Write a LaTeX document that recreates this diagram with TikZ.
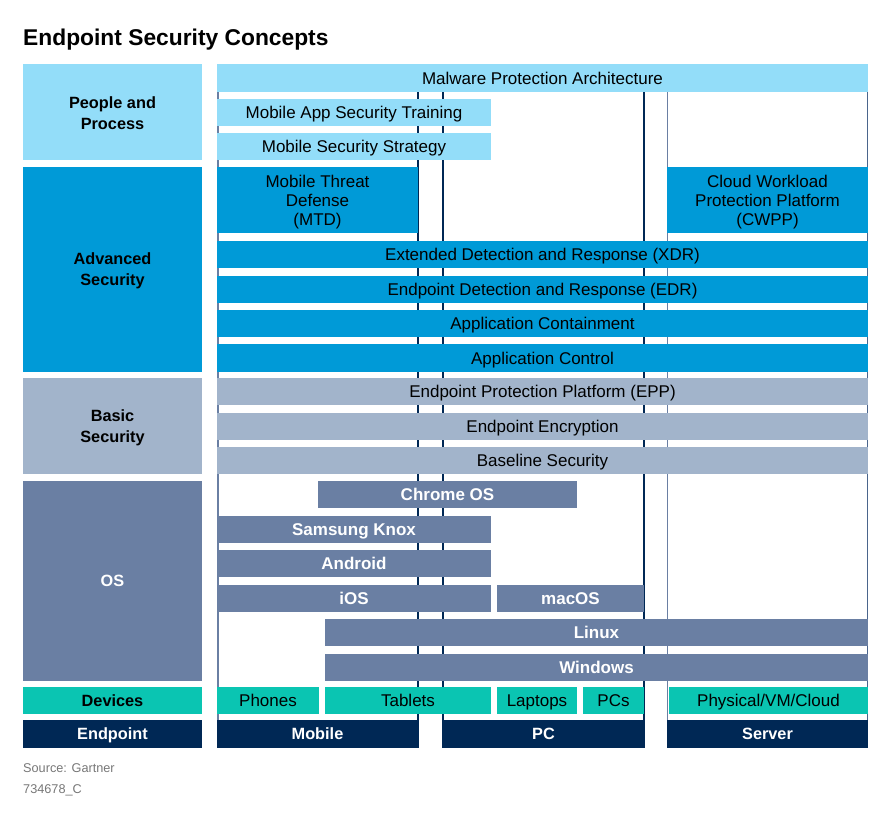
\documentclass[tikz,border=0pt]{standalone}
\usepackage{fontspec}
\setmainfont{Liberation Sans}
\definecolor{cLight}{HTML}{93DDF9}
\definecolor{cAdv}{HTML}{009AD7}
\definecolor{cBasic}{HTML}{A2B4CB}
\definecolor{cOS}{HTML}{6A7FA3}
\definecolor{cDev}{HTML}{0AC5B2}
\definecolor{cEnd}{HTML}{002855}
\definecolor{cGrayLine}{HTML}{6A7FA3}
\definecolor{cSrc}{HTML}{777777}
\newcommand\bx[7]{%
  \node[#6, minimum width={(#4-#2)*1pt}, minimum height={(#5-#3)*1pt}, anchor=north west] (#1) at (#2,#3) {#7};}
% multi-line box: the text is a centred label shifted down a little
\newcommand\bxm[8]{%
  \node[#6, minimum width={(#4-#2)*1pt}, minimum height={(#5-#3)*1pt}, anchor=north west,
        label={[#7]center:{#8}}] (#1) at (#2,#3) {};}
\begin{document}
\begin{tikzpicture}[x=1pt,y=-1pt,
  base/.style={inner sep=0pt, outer sep=0pt, align=center, font=\fontsize{17}{19}\selectfont},
  one/.style={text height=14pt, text depth=1.8pt},
  box/.style={base, one},
  lbl/.style={base, font=\fontsize{16.3}{21}\selectfont\bfseries},
  lblt/.style={inner sep=0pt, align=center, font=\fontsize{16.3}{21}\selectfont\bfseries, yshift=-1.5pt},
  lblone/.style={lbl, text height=13.4pt, text depth=1.7pt},
  light/.style={box, fill=cLight, text=black},
  adv/.style={box, fill=cAdv, text=black},
  advm/.style={base, fill=cAdv},
  advt/.style={inner sep=0pt, align=center, font=\fontsize{17}{19}\selectfont, text=black, yshift=-2.5pt},
  basic/.style={box, fill=cBasic, text=black},
  os/.style={box, fill=cOS, text=white, font=\fontsize{17}{19}\selectfont\bfseries},
  dev/.style={box, fill=cDev, text=black},
  endp/.style={box, fill=cEnd, text=white, font=\fontsize{16.3}{19}\selectfont\bfseries, text height=13.4pt, text depth=1.7pt},
  navyline/.style={draw=cEnd, line width=1.5pt},
  grayline/.style={draw=cGrayLine, line width=1.5pt},
]
\useasboundingbox (0,0) rectangle (892,812);
% title
\node[anchor=base west, inner sep=0pt, font=\fontsize{22.8}{26}\selectfont\bfseries] (title) at (23,45) {Endpoint Security Concepts};
% column outlines
\draw[grayline] (217.75,64) -- (217.75,748);
\draw[navyline] (418,64) -- (418,748);
\draw[navyline] (443,64) -- (443,748);
\draw[navyline] (644,64) -- (644,748);
\draw[grayline] (667.5,64) -- (667.5,748);
\draw[draw=cGrayLine!70!cEnd, line width=1.5pt] (867.5,64) -- (867.5,748);
% left labels
\bxm{pp}{23}{64}{202}{160}{lbl,fill=cLight}{lblt,text=black}{People and\\Process}
\bxm{as}{23}{167}{202}{372}{lbl,fill=cAdv}{lblt,text=black}{Advanced\\Security}
\bxm{bs}{23}{378}{202}{474}{lbl,fill=cBasic}{lblt,text=black}{Basic\\Security}
\bx{osl}{23}{481}{202}{681}{lblone,fill=cOS,text=white}{OS}
\bx{devl}{23}{687}{202}{714}{lblone,fill=cDev,text=black}{Devices}
\bx{endl}{23}{720}{202}{748}{lblone,fill=cEnd,text=white}{Endpoint}
% people and process
\bx{mpa}{217}{64}{868}{92}{light}{Malware Protection Architecture}
\bx{mast}{217}{99}{491}{126}{light}{Mobile App Security Training}
\bx{mss}{217}{133}{491}{160}{light}{Mobile Security Strategy}
% advanced
\bxm{mtd}{217}{167}{418}{233}{advm}{advt}{Mobile Threat\\Defense\\(MTD)}
\bxm{cwpp}{667}{167}{868}{233}{advm}{advt}{Cloud Workload\\Protection Platform\\(CWPP)}
\bx{xdr}{217}{241}{868}{268}{adv}{Extended Detection and Response (XDR)}
\bx{edr}{217}{276}{868}{303}{adv}{Endpoint Detection and Response (EDR)}
\bx{ac}{217}{310}{868}{337}{adv}{Application Containment}
\bx{actl}{217}{344}{868}{372}{adv}{Application Control}
% basic
\bx{epp}{217}{378}{868}{405}{basic}{Endpoint Protection Platform (EPP)}
\bx{ee}{217}{413}{868}{440}{basic}{Endpoint Encryption}
\bx{bls}{217}{447}{868}{474}{basic}{Baseline Security}
% OS
\bx{chr}{318}{481}{577}{508}{os}{Chrome OS}
\bx{knox}{217}{516}{491}{543}{os}{Samsung Knox}
\bx{andr}{217}{550}{491}{577}{os}{Android}
\bx{ios}{217}{585}{491}{612}{os}{iOS}
\bx{mac}{497}{585}{644}{612}{os}{macOS}
\bx{lin}{325}{619}{868}{646}{os}{Linux}
\bx{win}{325}{654}{868}{681}{os}{Windows}
% devices
\bx{phn}{217}{687}{319}{714}{dev}{Phones}
\bx{tab}{325}{687}{491}{714}{dev}{Tablets}
\bx{lap}{497}{687}{577}{714}{dev}{Laptops}
\bx{pcs}{583}{687}{644}{714}{dev}{PCs}
\bx{phy}{669}{687}{868}{714}{dev}{Physical/VM/Cloud}
% endpoints
\bx{mob}{217}{720}{418}{748}{endp}{Mobile}
\bx{pc}{443}{720}{644}{748}{endp}{PC}
\bx{srv}{667}{720}{868}{748}{endp}{Server}
% source
\node[anchor=base west, inner sep=0pt, text=cSrc, font=\fontsize{12.7}{14}\selectfont] (src) at (23,772) {Source: Gartner};
\node[anchor=base west, inner sep=0pt, text=cSrc, font=\fontsize{12.7}{14}\selectfont] (code) at (23,793) {734678\_C};
\end{tikzpicture}
\end{document}
